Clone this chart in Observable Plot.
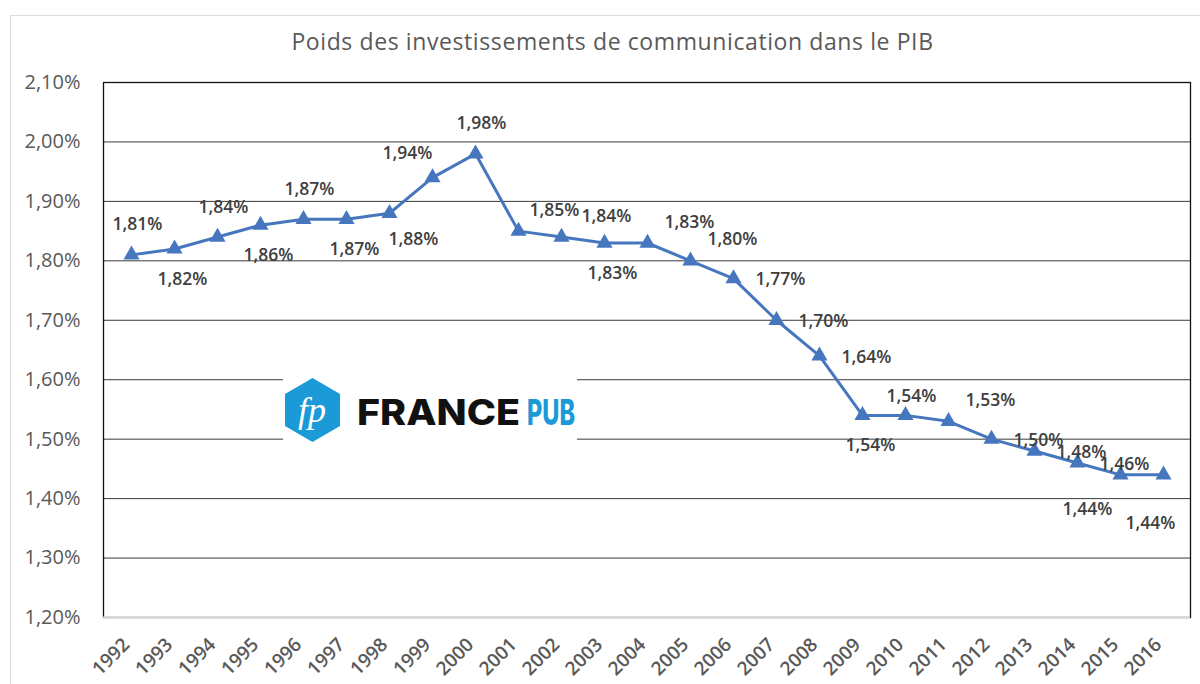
<!DOCTYPE html>
<html>
<head>
<meta charset="utf-8">
<script src="https://cdn.jsdelivr.net/npm/d3@7"></script>
<script src="https://cdn.jsdelivr.net/npm/@observablehq/plot@0.6"></script>
<style>
  html, body { margin: 0; padding: 0; background: #fff; }
  #wrap { position: relative; width: 1200px; height: 684px; overflow: hidden; font-family: "Open Sans", sans-serif; }
  #outer { position: absolute; left: 10px; top: 15px; width: 1200px; height: 700px; border-top: 1px solid #dcdcdc; border-left: 1px solid #dcdcdc; }
  #title { position: absolute; left: 0; top: 30px; width: 1225px; text-align: center; font-size: 23px; letter-spacing: 0.6px; line-height: 23px; color: #595959; }
  #chart { position: absolute; left: 0; top: 60px; }
  #logo { position: absolute; left: 283px; top: 377px; overflow: visible; }
</style>
</head>
<body>
<div id="wrap">
  <div id="outer"></div>
  <div id="title">Poids des investissements de communication dans le PIB</div>
  <div id="chart"></div>
  <svg id="logo" width="300" height="66" viewBox="0 0 300 66">
    <rect x="0" y="0" width="294" height="66" fill="#fff"></rect>
    <polygon points="29.5,1 57,17 57,49 29.5,65 2,49 2,17" fill="#1b9ad7"></polygon>
    <text x="29" y="45" text-anchor="middle" font-family="Liberation Serif" font-style="italic" font-size="36" fill="#fff">fp</text>
    <text x="74" y="48" font-family="Inter" font-weight="800" font-size="35" textLength="163" lengthAdjust="spacingAndGlyphs" fill="#111">FRANCE</text>
    <text x="244" y="48" font-family="Inter" font-weight="800" font-size="35" textLength="48" lengthAdjust="spacingAndGlyphs" fill="#1b9ad7">PUB</text>
  </svg>
</div>
<script>
const years = [1992, 1993, 1994, 1995, 1996, 1997, 1998, 1999, 2000, 2001, 2002, 2003, 2004,
               2005, 2006, 2007, 2008, 2009, 2010, 2011, 2012, 2013, 2014, 2015, 2016];
const values = [1.81, 1.82, 1.84, 1.86, 1.87, 1.87, 1.88, 1.94, 1.98, 1.85, 1.84, 1.83, 1.83,
                1.80, 1.77, 1.70, 1.64, 1.54, 1.54, 1.53, 1.50, 1.48, 1.46, 1.44, 1.44];
// label placement relative to its point (compass code)
const labelPlacement = ["n", "s", "n", "s", "n", "s", "se", "nw", "n", "ne1", "ne2", "s", "ne",
                        "ne", "e", "e", "e", "s", "n2", "ne", "e", "e", "e", "sw", "s2"];
const yTicks = [1.2, 1.3, 1.4, 1.5, 1.6, 1.7, 1.8, 1.9, 2.0, 2.1];

const data = years.map((y, i) => ({ year: String(y), value: values[i], pos: labelPlacement[i] }));
const fmt = v => v.toFixed(2).replace(".", ",") + "%";
const offsets = {
  n: [6, -30], n2: [6, -19], s: [8, 30], s2: [-13, 49], e: [47, 1], ne: [42, -21],
  ne1: [36, -21], ne2: [45, -21], se: [24, 26], nw: [-25, -24], sw: [-33, 35]
};
const blue = "#4677be";

const chart = Plot.plot({
  width: 1200,
  height: 624,
  marginTop: 22,
  marginBottom: 67,
  marginLeft: 103,
  marginRight: 10,
  style: { fontFamily: "Open Sans, sans-serif", color: "#595959", background: "transparent" },
  x: { type: "point", domain: years.map(String), padding: 0.5, label: null },
  y: { domain: [1.2, 2.1], label: null },
  marks: [
    Plot.ruleY(yTicks.slice(1), { stroke: "#3a3a3a", strokeWidth: 1 }),
    Plot.frame({ stroke: "#111", strokeWidth: 1.3 }),
    Plot.ruleY([1.2], { stroke: "#d9d9d9", strokeWidth: 2 }),
    Plot.axisY({ ticks: yTicks, tickFormat: fmt, tickSize: 0, tickPadding: 23, fontSize: 20, label: null }),
    Plot.axisX({ tickRotate: -45, tickSize: 0, tickPadding: 24, dx: -5, fontSize: 19, fontWeight: 600, label: null }),
    Plot.line(data, { x: "year", y: "value", stroke: blue, strokeWidth: 3 }),
    Plot.dot(data, { x: "year", y: "value", symbol: "triangle", r: 6, fill: blue, stroke: "none" }),
    ...Object.entries(offsets).map(([k, [dx, dy]]) =>
      Plot.text(data.filter(d => d.pos === k), {
        x: "year", y: "value", text: d => fmt(d.value), dx, dy,
        fill: "#404040", fontSize: 17.5, fontWeight: 600
      }))
  ]
});
document.getElementById("chart").appendChild(chart);
</script>
</body>
</html>
